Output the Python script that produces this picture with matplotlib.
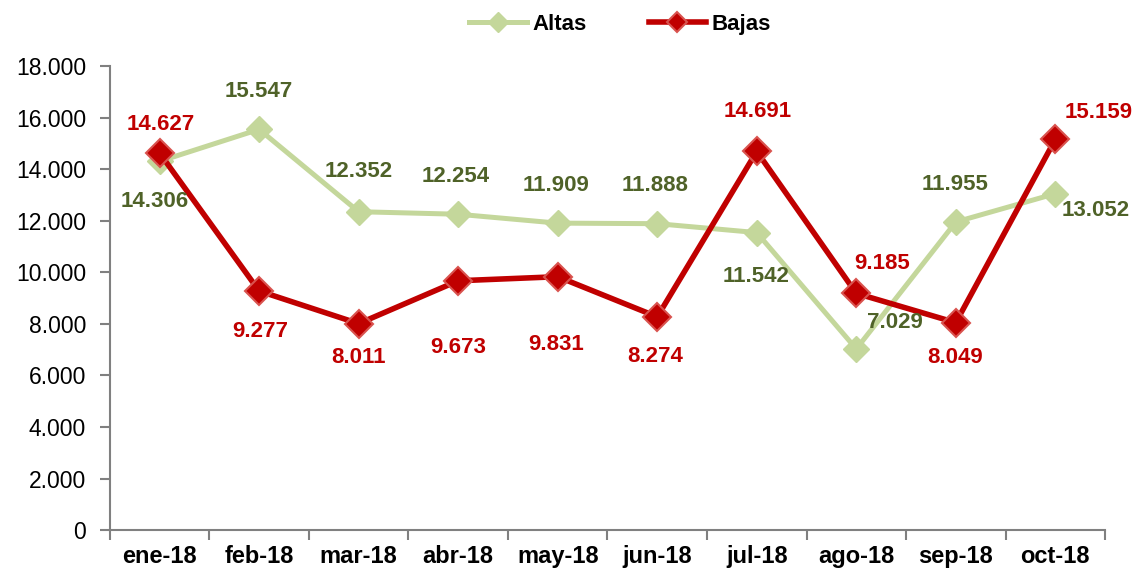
import matplotlib.pyplot as plt
import numpy as np

months = ['ene-18', 'feb-18', 'mar-18', 'abr-18', 'may-18',
          'jun-18', 'jul-18', 'ago-18', 'sep-18', 'oct-18']
altas = [14306, 15547, 12352, 12254, 11909, 11888, 11542, 7029, 11955, 13052]
bajas = [14627, 9277, 8011, 9673, 9831, 8274, 14691, 9185, 8049, 15159]

# label offsets in pixels (dx, dy)
altas_off = [(-5, -40), (0, 38), (0, 40), (-2, 38), (-2, 38), (-2, 38),
             (-1, -44), (39, 26), (-1, 37), (40, -17)]
bajas_off = [(1, 29), (1, -41), (0, -34), (0, -67), (-2, -68), (-2, -40),
             (1, 40), (26, 30), (-1, -35), (43, 27)]

green = '#C4D79B'
dkgreen = '#4F6228'
red = '#C00000'

plt.rcParams['font.family'] = ['Liberation Sans Narrow', 'Liberation Sans', 'DejaVu Sans']

fig = plt.figure(figsize=(11.44, 5.8), dpi=100)
ax = fig.add_axes([0.096, 0.086, 0.87, 0.8])

x = np.arange(len(months))
ax.plot(x, altas, color=green, lw=3.6, marker='D', ms=13, mfc=green, mec=green,
        label='Altas', zorder=2)
ax.plot(x, bajas, color=red, lw=4, marker='D', ms=14, mfc=red, mec='#D9534F',
        mew=1.5, label='Bajas', zorder=3)

for i, v in enumerate(altas):
    ax.annotate(f'{v:,}'.replace(',', '.'), (x[i], v), xytext=altas_off[i],
                textcoords='offset pixels', ha='center', va='center',
                color=dkgreen, fontsize=16, fontweight='bold', zorder=4)
for i, v in enumerate(bajas):
    ax.annotate(f'{v:,}'.replace(',', '.'), (x[i], v), xytext=bajas_off[i],
                textcoords='offset pixels', ha='center', va='center',
                color=red, fontsize=16, fontweight='bold', zorder=4)

ax.set_xlim(-0.5, len(months) - 0.5)
ax.set_ylim(0, 18000)
ax.set_yticks(range(0, 18001, 2000))
ax.set_yticklabels([f'{t:,}'.replace(',', '.') for t in range(0, 18001, 2000)],
                   fontsize=16.5)
ax.set_xticks(x)
ax.set_xticklabels(months, fontsize=17, fontweight='bold')
ax.tick_params(axis='x', which='major', length=0, pad=11)
ax.set_xticks(np.arange(-0.5, len(months), 1), minor=True)
ax.tick_params(axis='x', which='minor', length=7, color='#808080', width=1.5)
ax.tick_params(axis='y', length=7, color='#808080', width=1.5, pad=10)

for s in ['top', 'right']:
    ax.spines[s].set_visible(False)
for s in ['left', 'bottom']:
    ax.spines[s].set_color('#808080')
    ax.spines[s].set_linewidth(1.5)

leg = fig.legend(loc='upper center', bbox_to_anchor=(0.542, 1.01), ncol=2,
                 frameon=False, prop={'size': 16, 'weight': 'bold'},
                 handlelength=2.6, columnspacing=2.8, handletextpad=0.25)
for h in leg.legend_handles:
    h.set_markersize(10)

fig.savefig('out.png', dpi=100)
